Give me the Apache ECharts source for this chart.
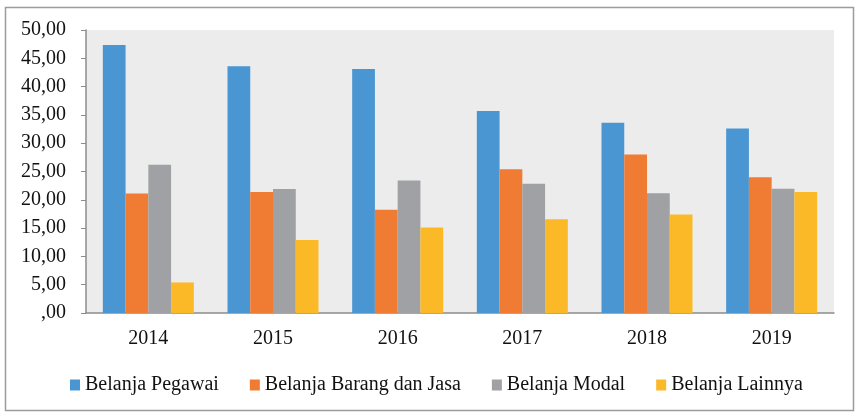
<!DOCTYPE html>
<html>
<head>
<meta charset="utf-8">
<script src="https://cdn.jsdelivr.net/npm/echarts@6/dist/echarts.min.js"></script>
<style>
    html, body { margin: 0; padding: 0; background: #fff; }
    #chart { width: 855px; height: 412px; }
</style>
</head>
<body>
<div id="chart"></div>
<script>
// data
let years = ["2014", "2015", "2016", "2017", "2018", "2019"];
let pegawai = [47.35, 43.6, 43.1, 35.7, 33.6, 32.6];
let barangJasa = [21.1, 21.4, 18.25, 25.4, 28.0, 24.0];
let modal = [26.2, 21.9, 23.4, 22.85, 21.15, 21.95];
let lainnya = [5.4, 12.9, 15.1, 16.55, 17.4, 21.4];
let seriesNames = ["Belanja Pegawai", "Belanja Barang dan Jasa", "Belanja Modal", "Belanja Lainnya"];

let colors = ['#4a96d2', '#f07c33', '#a0a1a4', '#fbb928'];
let font = '"Liberation Serif", "Times New Roman", serif';

function makeBar(name, data) {
    return {
        name: name,
        type: "bar",
        data: data,
        barGap: 0,
        barCategoryGap: "27%"
    };
}

let mychart = echarts.init(document.getElementById("chart"));
let options = {
    color: colors,
    animation: false,
    textStyle: { fontFamily: font },
    graphic: [{
        type: "rect",
        shape: { x: 5.5, y: 7.5, width: 848, height: 403 },
        style: { fill: "none", stroke: "#9c9c9c", lineWidth: 1.5 },
        z: 0
    }],
    grid: {
        left: 86,
        right: 21,
        top: 30,
        bottom: 99,
        show: true,
        backgroundColor: "#ececec",
        borderWidth: 0
    },
    legend: {
        data: seriesNames,
        top: 370,
        left: 65,
        itemWidth: 10,
        itemHeight: 11,
        itemGap: 31,
        icon: "rect",
        textStyle: { fontFamily: font, fontSize: 20, color: "#111", padding: [0, 0, 0, 0] }
    },
    xAxis: {
        type: "category",
        data: years,
        axisLine: { lineStyle: { color: "#8c8c8c", width: 1.5 } },
        axisTick: { length: 5, lineStyle: { color: "#8c8c8c" } },
        axisLabel: { fontFamily: font, fontSize: 20, color: "#111", margin: 16 }
    },
    yAxis: {
        type: "value",
        min: 0,
        max: 50,
        interval: 5,
        axisLine: { show: true, lineStyle: { color: "#8c8c8c", width: 1.5 } },
        axisTick: { show: true, length: 5, lineStyle: { color: "#8c8c8c" } },
        splitLine: { show: false },
        axisLabel: {
            fontFamily: font,
            fontSize: 20,
            color: "#111",
            margin: 20,
            formatter: function (v) {
                return v === 0 ? ",00" : v.toFixed(2).replace(".", ",");
            }
        }
    },
    series: [
        makeBar(seriesNames[0], pegawai),
        makeBar(seriesNames[1], barangJasa),
        makeBar(seriesNames[2], modal),
        makeBar(seriesNames[3], lainnya)
    ]
};
mychart.setOption(options);
</script>
</body>
</html>
